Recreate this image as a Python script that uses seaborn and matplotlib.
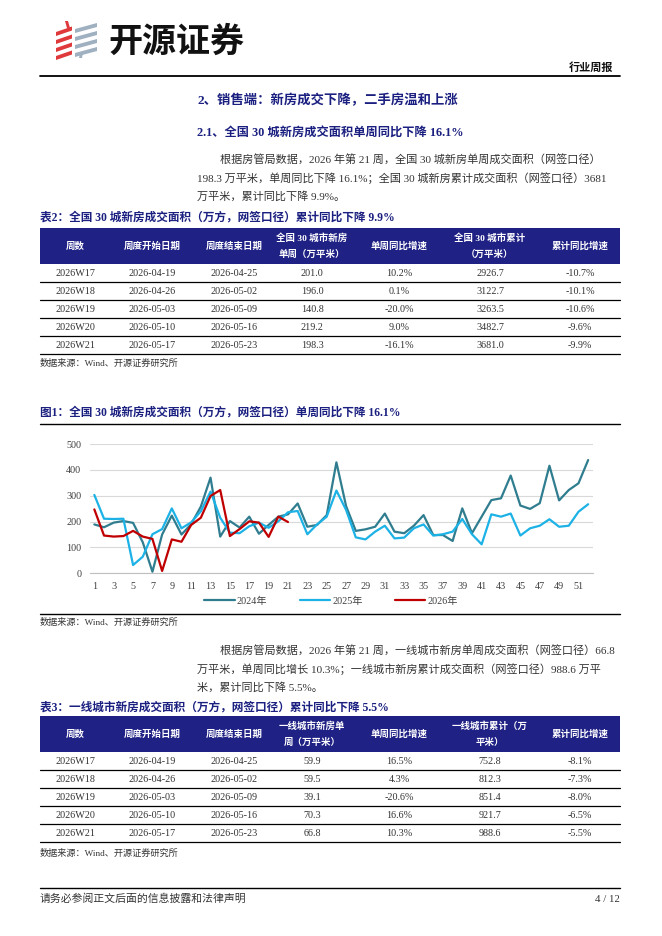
import numpy as np
import pandas as pd
import matplotlib
matplotlib.use("Agg")
import matplotlib.pyplot as plt
from matplotlib.patches import Rectangle, Polygon
from matplotlib.lines import Line2D
import seaborn as sns

# ---------------- data ----------------
weeks = list(range(1, 53))
y2024 = [189, 178, 196, 202, 195, 120, 6, 150, 223, 150, 190, 258, 370, 142, 202, 177, 219, 153, 187, 219,
         228, 270, 180, 187, 225, 429, 260, 164, 170, 180, 231, 161, 155, 184, 225, 148, 148, 125, 251, 155,
         219, 283, 290, 378, 262, 249, 271, 416, 282, 322, 348, 438]
y2025 = [303, 211, 210, 211, 32, 64, 151, 171, 251, 174, 197, 240, 316, 215, 157, 155, 182, 196, 176, 201,
         236, 241, 151, 189, 219, 320, 245, 139, 131, 161, 184, 135, 138, 174, 189, 146, 151, 161, 210, 151,
         112, 228, 219, 231, 146, 174, 184, 209, 180, 184, 238, 267]
y2026 = [247, 146, 142, 144, 164, 142, 133, 9, 131, 122, 187, 215, 299, 322, 144, 171, 201.0, 196.0, 140.8,
         219.2, 198.3]
series_names = ["2024年", "2025年", "2026年"]
series_colors = ["#2F7D8F", "#1DB2E6", "#C00000"]
x_tick_labels = [str(i) for i in range(1, 53, 2)]
y_ticks = [0, 100, 200, 300, 400, 500]

t_weeks = ["2026W17", "2026W18", "2026W19", "2026W20", "2026W21"]
t_start = ["2026-04-19", "2026-04-26", "2026-05-03", "2026-05-10", "2026-05-17"]
t_end = ["2026-04-25", "2026-05-02", "2026-05-09", "2026-05-16", "2026-05-23"]
t2_week_area = ["201.0", "196.0", "140.8", "219.2", "198.3"]
t2_week_yoy = ["10.2%", "0.1%", "-20.0%", "9.0%", "-16.1%"]
t2_cum_area = ["2926.7", "3122.7", "3263.5", "3482.7", "3681.0"]
t2_cum_yoy = ["-10.7%", "-10.1%", "-10.6%", "-9.6%", "-9.9%"]
t3_week_area = ["59.9", "59.5", "39.1", "70.3", "66.8"]
t3_week_yoy = ["16.5%", "4.3%", "-20.6%", "16.6%", "10.3%"]
t3_cum_area = ["752.8", "812.3", "851.4", "921.7", "988.6"]
t3_cum_yoy = ["-8.1%", "-7.3%", "-8.0%", "-6.5%", "-5.5%"]
t2_header = ["周数", "周度开始日期", "周度结束日期", "全国 30 城市新房\n单周（万平米）", "单周同比增速",
             "全国 30 城市累计\n（万平米）", "累计同比增速"]
t3_header = ["周数", "周度开始日期", "周度结束日期", "一线城市新房单\n周（万平米）", "单周同比增速",
             "一线城市累计（万\n平米）", "累计同比增速"]

# ---------------- style ----------------
sns.set_theme(style="white")
plt.rcParams['font.family'] = ['Liberation Serif', 'Noto Sans CJK SC', 'DejaVu Sans']
plt.rcParams['axes.unicode_minus'] = False

W, H = 662, 936
fig = plt.figure(figsize=(W / 100, H / 100), dpi=100)
bg = fig.add_axes([0, 0, 1, 1])
bg.set_xlim(0, W)
bg.set_ylim(H, 0)
bg.axis("off")

NAVY = "#1B2080"
HEAD = "#1F2185"
TXT = "#333333"

# ---------------- logo ----------------
red = "#E0393B"
grey = "#9FB1C1"
for yy in [29, 37, 45, 53]:
    bg.add_patch(Polygon([[56, yy + 3], [72, yy - 2.5], [72, yy + 1.5], [56, yy + 7]], closed=True,
                         color=red, lw=0))
for yy in [26, 34, 42, 50]:
    bg.add_patch(Polygon([[75, yy + 3], [97, yy - 3], [97, yy + 1], [75, yy + 7]], closed=True,
                         color=grey, lw=0))
bg.add_patch(Polygon([[65, 21], [68, 21], [70, 28], [67, 28]], closed=True, color=red, lw=0))
bg.add_patch(Polygon([[80, 53], [83, 53], [82, 58], [79, 58]], closed=True, color=grey, lw=0))
bg.text(108, 41, "开源证券", fontsize=24.5, fontweight="bold", color="#111111",
        family=['Noto Sans CJK SC'], va="center", ha="left")

bg.text(613, 68, "行业周报", fontsize=8, fontweight="bold", color="#111111", ha="right", va="center")
bg.plot([40, 620], [76, 76], color="black", lw=1.3)

# ---------------- headings & text ----------------
bg.text(197, 100, "2、销售端：新房成交下降，二手房温和上涨", fontsize=9.6, fontweight="bold",
        color=NAVY, ha="left", va="center")
bg.text(197, 133, "2.1、全国 30 城新房成交面积单周同比下降 16.1%", fontsize=8.8, fontweight="bold",
        color=NAVY, ha="left", va="center")

p1 = ["根据房管局数据，2026 年第 21 周，全国 30 城新房单周成交面积（网签口径）",
      "198.3 万平米，单周同比下降 16.1%；全国 30 城新房累计成交面积（网签口径）3681",
      "万平米，累计同比下降 9.9%。"]
p2 = ["根据房管局数据，2026 年第 21 周，一线城市新房单周成交面积（网签口径）66.8",
      "万平米，单周同比增长 10.3%；一线城市新房累计成交面积（网签口径）988.6 万平",
      "米，累计同比下降 5.5%。"]
for i, line in enumerate(p1):
    bg.text(220 if i == 0 else 197, 160 + 18 * i, line, fontsize=8.0, color=TXT, ha="left", va="center")
for i, line in enumerate(p2):
    bg.text(220 if i == 0 else 197, 651 + 18 * i, line, fontsize=8.0, color=TXT, ha="left", va="center")

# ---------------- tables ----------------
col_x = [75, 152, 234, 312, 399, 490, 580]


def draw_table(title, title_y, top, header, cols, src_y):
    bg.text(40, title_y, title, fontsize=8.4, fontweight="bold", color=NAVY, ha="left", va="center")
    bg.add_patch(Rectangle((40, top), 580, 36, color=HEAD, lw=0))
    for cx, h in zip(col_x, header):
        bg.text(cx, top + 18, h, fontsize=6.8, fontweight="bold", color="white", ha="center", va="center",
                linespacing=1.9)
    rows = list(zip(*cols))
    for r, row in enumerate(rows):
        yc = top + 36 + 18 * r + 9
        for cx, v in zip(col_x, row):
            bg.text(cx, yc, v, fontsize=7.3, color=TXT, ha="center", va="center")
        bg.plot([40, 620], [top + 36 + 18 * (r + 1)] * 2, color="black", lw=0.9)
    bg.text(40, src_y, "数据来源：Wind、开源证券研究所", fontsize=6.6, color=TXT, ha="left", va="center")


draw_table("表2：全国 30 城新房成交面积（万方，网签口径）累计同比下降 9.9%", 218, 228, t2_header,
           [t_weeks, t_start, t_end, t2_week_area, t2_week_yoy, t2_cum_area, t2_cum_yoy], 363)
draw_table("表3：一线城市新房成交面积（万方，网签口径）累计同比下降 5.5%", 708, 716, t3_header,
           [t_weeks, t_start, t_end, t3_week_area, t3_week_yoy, t3_cum_area, t3_cum_yoy], 853)

# ---------------- figure 1 ----------------
bg.text(40, 413, "图1：全国 30 城新房成交面积（万方，网签口径）单周同比下降 16.1%", fontsize=8.4,
        fontweight="bold", color=NAVY, ha="left", va="center")
bg.plot([40, 620], [424, 424], color="black", lw=1.0)
bg.plot([40, 620], [614, 614], color="black", lw=1.0)
bg.text(40, 622, "数据来源：Wind、开源证券研究所", fontsize=6.6, color=TXT, ha="left", va="center")

x0, x1 = 89.5, 593.0
ybot, ytop = 573.3, 444.0
ax = fig.add_axes([x0 / W, 1 - ybot / H, (x1 - x0) / W, (ybot - ytop) / H])
df = pd.concat([
    pd.DataFrame({"week": weeks, "value": y2024, "year": series_names[0]}),
    pd.DataFrame({"week": weeks, "value": y2025, "year": series_names[1]}),
    pd.DataFrame({"week": weeks[:len(y2026)], "value": y2026, "year": series_names[2]}),
])
sns.lineplot(data=df, x="week", y="value", hue="year", hue_order=series_names,
             palette=dict(zip(series_names, series_colors)), lw=1.6, ax=ax, legend=False)
ax.set_xlim(0.5, 52.5)
ax.set_ylim(0, 500)
ax.set_yticks(y_ticks)
ax.set_yticklabels([str(v) for v in y_ticks], fontsize=7.3, color="#404040")
ax.set_xticks(list(range(1, 53, 2)))
ax.set_xticklabels(x_tick_labels, fontsize=7.3, color="#404040")
ax.set_xticks(np.arange(0.5, 53, 1), minor=True)
ax.tick_params(axis="x", which="major", length=0, pad=6)
ax.tick_params(axis="x", which="minor", length=3, color="#BFBFBF", width=0.8, direction="out")
ax.tick_params(axis="y", length=0, pad=6)
ax.set_xlabel("")
ax.set_ylabel("")
ax.grid(axis="y", color="#D9D9D9", lw=0.8)
ax.set_axisbelow(True)
for s in ["top", "right", "left"]:
    ax.spines[s].set_visible(False)
ax.spines["bottom"].set_color("#BFBFBF")
ax.spines["bottom"].set_linewidth(0.8)
ax.set_zorder(2)

handles = [Line2D([0], [0], color=c, lw=1.6) for c in series_colors]
fig.legend(handles, series_names, loc="center", bbox_to_anchor=(331 / W, 1 - 601 / H), ncol=3,
           frameon=False, fontsize=7.3, handlelength=3.0, columnspacing=3.2, handletextpad=0.2,
           labelcolor="#404040")

# ---------------- footer ----------------
bg.plot([40, 620], [888, 888], color="black", lw=1.0)
bg.text(40, 899, "请务必参阅正文后面的信息披露和法律声明", fontsize=7.8, color=TXT, ha="left", va="center")
bg.text(620, 899, "4 / 12", fontsize=7.8, color=TXT, ha="right", va="center")

fig.savefig("out.png", dpi=100)
